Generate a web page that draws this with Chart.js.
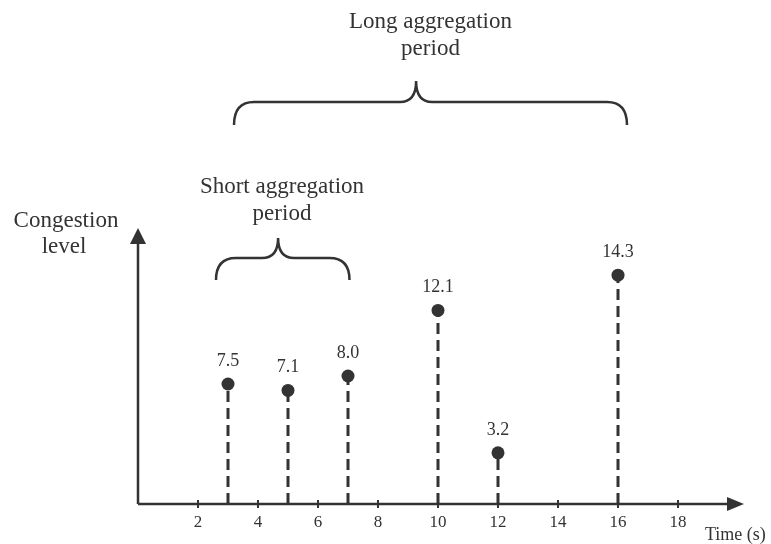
<!DOCTYPE html>
<html>
<head>
<meta charset="utf-8">
<script src="https://cdn.jsdelivr.net/npm/chart.js@4"></script>
<style>
  body { margin: 0; background: #fff; }
</style>
</head>
<body>
<canvas id="chart" width="771" height="544"></canvas>
<script>
const times = [3, 5, 7, 10, 12, 16];
const congestion = [7.5, 7.1, 8.0, 12.1, 3.2, 14.3];
const xTicks = [2, 4, 6, 8, 10, 12, 14, 16, 18];

const ink = '#333333';
const serif = '"Liberation Serif", "Times New Roman", serif';

// curly brace, opening downward, drawn from x1 to x2 with the tip at tx
function brace(ctx, x1, x2, tx, yEnd, yMid, yTip) {
    const r = 20, t = 16;
    ctx.beginPath();
    ctx.moveTo(x1, yEnd);
    ctx.quadraticCurveTo(x1, yMid, x1 + r, yMid);
    ctx.lineTo(tx - t, yMid);
    ctx.quadraticCurveTo(tx, yMid, tx, yTip);
    ctx.quadraticCurveTo(tx, yMid, tx + t, yMid);
    ctx.lineTo(x2 - r, yMid);
    ctx.quadraticCurveTo(x2, yMid, x2, yEnd);
    ctx.stroke();
}

const stemsAndAxes = {
    id: 'stemsAndAxes',
    beforeDatasetsDraw(chart) {
        const ctx = chart.ctx;
        const area = chart.chartArea;
        const x = chart.scales.x, y = chart.scales.y;
        const y0 = y.getPixelForValue(0);
        ctx.save();
        ctx.strokeStyle = ink;
        ctx.fillStyle = ink;

        // dashed stems
        ctx.lineWidth = 3;
        ctx.setLineDash([11, 6]);
        chart.getDatasetMeta(0).data.forEach(pt => {
            ctx.beginPath();
            ctx.moveTo(pt.x, y0);
            ctx.lineTo(pt.x, pt.y);
            ctx.stroke();
        });
        ctx.setLineDash([]);

        // axes
        ctx.lineWidth = 2.5;
        ctx.beginPath();
        ctx.moveTo(area.left, y0);
        ctx.lineTo(area.right - 10, y0);
        ctx.moveTo(area.left, y0);
        ctx.lineTo(area.left, area.top + 10);
        ctx.stroke();
        ctx.beginPath();
        ctx.moveTo(area.right, y0);
        ctx.lineTo(area.right - 17, y0 - 7);
        ctx.lineTo(area.right - 17, y0 + 7);
        ctx.closePath();
        ctx.fill();
        ctx.beginPath();
        ctx.moveTo(area.left, area.top);
        ctx.lineTo(area.left - 8, area.top + 16);
        ctx.lineTo(area.left + 8, area.top + 16);
        ctx.closePath();
        ctx.fill();

        // tick marks
        ctx.lineWidth = 2;
        xTicks.forEach(v => {
            const px = x.getPixelForValue(v);
            ctx.beginPath();
            ctx.moveTo(px, y0 - 4);
            ctx.lineTo(px, y0 + 4);
            ctx.stroke();
        });
        ctx.restore();
    },
    afterDatasetsDraw(chart) {
        const ctx = chart.ctx;
        ctx.save();
        ctx.fillStyle = ink;
        ctx.font = '18px ' + serif;
        ctx.textAlign = 'center';
        ctx.textBaseline = 'middle';
        chart.getDatasetMeta(0).data.forEach((pt, i) => {
            ctx.fillText(congestion[i].toFixed(1), pt.x, pt.y - 23);
        });
        ctx.restore();
    },
    afterDraw(chart) {
        const ctx = chart.ctx;
        const x = chart.scales.x;
        ctx.save();
        ctx.strokeStyle = ink;
        ctx.fillStyle = ink;
        ctx.lineWidth = 2.5;

        brace(ctx, x.getPixelForValue(3.2), x.getPixelForValue(16.3), x.getPixelForValue(9.27), 125, 102, 81);
        brace(ctx, x.getPixelForValue(2.6), x.getPixelForValue(7.05), x.getPixelForValue(4.67), 280, 258, 238);

        ctx.font = '23px ' + serif;
        ctx.textAlign = 'center';
        ctx.textBaseline = 'alphabetic';
        ctx.fillText('Long aggregation', x.getPixelForValue(9.75), 28);
        ctx.fillText('period', x.getPixelForValue(9.75), 55);
        ctx.fillText('Short aggregation', x.getPixelForValue(4.8), 193);
        ctx.fillText('period', x.getPixelForValue(4.8), 220);
        ctx.fillText('Congestion', 66, 227);
        ctx.fillText('level', 64, 253);

        ctx.font = '18px ' + serif;
        ctx.textAlign = 'left';
        ctx.fillText('Time (s)', 705, 540);
        ctx.restore();
    }
};

new Chart(document.getElementById('chart'), {
    type: 'line',
    data: {
        datasets: [{
            data: times.map((t, i) => ({ x: t, y: congestion[i] })),
            showLine: false,
            pointRadius: 6.5,
            pointHoverRadius: 6.5,
            pointBackgroundColor: ink,
            pointBorderColor: ink,
            pointBorderWidth: 0
        }]
    },
    options: {
        responsive: false,
        animation: false,
        events: [],
        layout: {
            padding: { left: 138, right: 27, top: 228, bottom: 0 }
        },
        plugins: {
            legend: { display: false },
            tooltip: { enabled: false }
        },
        scales: {
            x: {
                type: 'linear',
                min: 0,
                max: 20.2,
                afterBuildTicks: scale => {
                    scale.ticks = xTicks.map(v => ({ value: v }));
                },
                afterFit: scale => { scale.height = 40; },
                grid: { display: false, drawTicks: false },
                border: { display: false },
                ticks: {
                    color: ink,
                    padding: 8,
                    maxRotation: 0,
                    autoSkip: false,
                    font: { family: serif, size: 17 }
                }
            },
            y: {
                display: false,
                min: 0,
                max: 17.25
            }
        }
    },
    plugins: [stemsAndAxes]
});
</script>
</body>
</html>
